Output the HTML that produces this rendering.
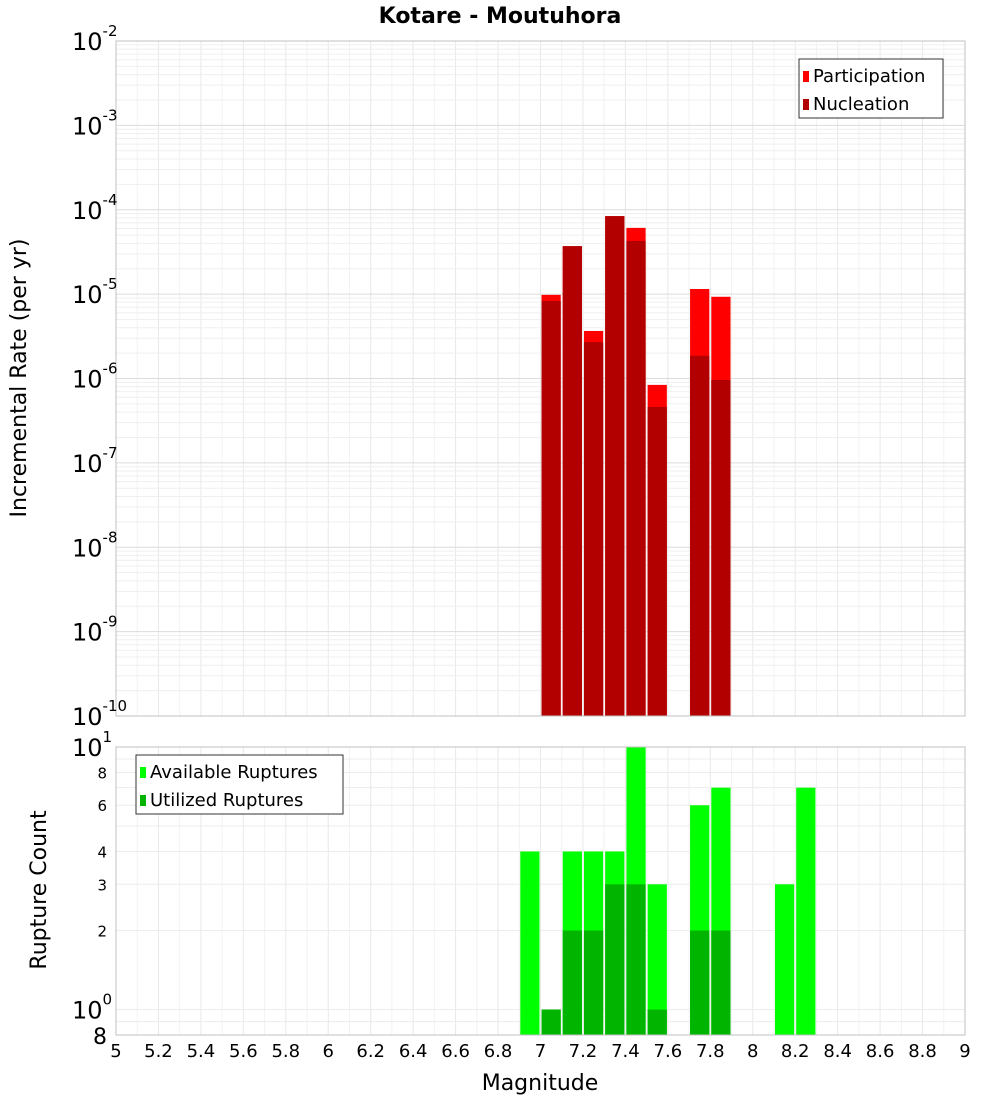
<!DOCTYPE html>
<html><head><meta charset="utf-8"><style>
body{margin:0;background:#fff;font-family:"Liberation Sans","DejaVu Sans",sans-serif}
svg text{font-family:"DejaVu Sans","Liberation Sans",sans-serif}
</style></head><body>
<svg id="c" width="1000" height="1100" xmlns="http://www.w3.org/2000/svg"></svg>
<script>
const magBins=[6.95,7.05,7.15,7.25,7.35,7.45,7.55,7.75,7.85,8.15,8.25];
const participation=[null,9.8e-6,3.7e-5,3.66e-6,8.4e-5,6.1e-5,8.4e-7,1.15e-5,9.3e-6,null,null];
const nucleation=[null,8.3e-6,3.7e-5,2.7e-6,8.4e-5,4.27e-5,4.6e-7,1.86e-6,9.6e-7,null,null];
const available=[4,1,4,4,4,10,3,6,7,3,7];
const utilized=[null,1,2,2,3,3,1,2,2,null,null];
const xTicks=[5,5.2,5.4,5.6,5.8,6,6.2,6.4,6.6,6.8,7,7.2,7.4,7.6,7.8,8,8.2,8.4,8.6,8.8,9];
const topDecades=[-2,-3,-4,-5,-6,-7,-8,-9,-10];

const S=document.getElementById('c');const NS='http://www.w3.org/2000/svg';
function mk(t,a,p){const e=document.createElementNS(NS,t);for(const k in a)e.setAttribute(k,a[k]);(p||S).appendChild(e);return e;}
const X0=116,X1=965;
const x=m=>X0+(m-5)/4*(X1-X0);
const T0=41,T1=716;
const yT=v=>T0+(-2-Math.log10(v))/8*(T1-T0);
const B0=747,B1=1035,BL=Math.log10(0.8);
const yB=v=>B0+(1-Math.log10(v))/(1-BL)*(B1-B0);

// title
let t=mk('text',{x:500,y:23,'text-anchor':'middle','font-size':22,'font-weight':'bold'});t.textContent='Kotare - Moutuhora';



// panels
let gT=mk('g',{});


mk('rect',{x:X0,y:T0,width:X1-X0,height:T1-T0,fill:'#fff',stroke:'none'},gT);
let gB=mk('g',{});


mk('rect',{x:X0,y:B0,width:X1-X0,height:B1-B0,fill:'#fff'},gB);

// grids
for(const m of xTicks){const gx=x(m);
 mk('line',{x1:gx,x2:gx,y1:T0,y2:T1,stroke:'#e8e8e8'},gT);
 mk('line',{x1:gx,x2:gx,y1:B0,y2:B1,stroke:'#e8e8e8'},gB);
 const gx2=x(m+0.1); if(m<9){mk('line',{x1:gx2,x2:gx2,y1:T0,y2:T1,stroke:'#f2f2f2'},gT);mk('line',{x1:gx2,x2:gx2,y1:B0,y2:B1,stroke:'#f2f2f2'},gB);}
}
for(let d=-10;d<-2;d++)for(let k=1;k<10;k++){const gy=yT(k*Math.pow(10,d));mk('line',{x1:X0,x2:X1,y1:gy,y2:gy,stroke:k==1?'#dcdcdc':'#efefef'},gT);}
for(const v of [0.8,0.9,1,2,3,4,5,6,7,8,9,10]){const gy=yB(v);mk('line',{x1:X0,x2:X1,y1:gy,y2:gy,stroke:'#ececec'},gB);}

// top bars
magBins.forEach((m,i)=>{const bx=x(m-0.05)+1,w=x(m+0.05)-x(m-0.05)-2;
 if(participation[i]){const r=mk('rect',{x:bx,y:yT(participation[i]),width:w,height:T1-yT(participation[i]),fill:'#ff0000'},gT);
  
  }
 if(nucleation[i]){const r=mk('rect',{x:bx,y:yT(nucleation[i]),width:w,height:T1-yT(nucleation[i]),fill:'#b20000'},gT);
  
  }
 if(available[i]){const r=mk('rect',{x:bx,y:yB(available[i]),width:w,height:B1-yB(available[i]),fill:'#00ff00'},gB);
  
  }
 if(utilized[i]){const r=mk('rect',{x:bx,y:yB(utilized[i]),width:w,height:B1-yB(utilized[i]),fill:'#00b400'},gB);
  
  }
});
mk('rect',{x:X0,y:T0,width:X1-X0,height:T1-T0,fill:'none',stroke:'#c0c0c0'},gT);
mk('rect',{x:X0,y:B0,width:X1-X0,height:B1-B0,fill:'none',stroke:'#c0c0c0'},gB);

// top y ticks
for(const d of topDecades){const gy=yT(Math.pow(10,d));
 const e=mk('text',{x:72,y:gy+9,'font-size':24});e.textContent='10';
 const s=mk('tspan',{dy:-14,'font-size':15},e);s.textContent=String(d);
 
 }
// bottom y ticks
const bt=[[8,'8'],[6,'6'],[4,'4'],[3,'3'],[2,'2']];
for(const [v,l] of bt){const e=mk('text',{x:107,y:yB(v)+6,'font-size':15,'text-anchor':'end'});e.textContent=l;
 
 }
for(const [v,p] of [[10,'1'],[1,'0']]){const e=mk('text',{x:72,y:yB(v)+9,'font-size':24});e.textContent='10';const s=mk('tspan',{dy:-14,'font-size':15},e);s.textContent=p;
 
 }
t=mk('text',{x:107,y:B1+9,'font-size':22,'text-anchor':'end'});t.textContent='8';

// x ticks
for(const m of xTicks){const e=mk('text',{x:x(m),y:1057,'font-size':18,'text-anchor':'middle'});e.textContent=String(m);
 
 }
t=mk('text',{x:540,y:1090,'font-size':22,'text-anchor':'middle'});t.textContent='Magnitude';


t=mk('text',{x:0,y:0,'font-size':22,'text-anchor':'middle',transform:'translate(26,378) rotate(-90)'});t.textContent='Incremental Rate (per yr)';


t=mk('text',{x:0,y:0,'font-size':22,'text-anchor':'middle',transform:'translate(46,890) rotate(-90)'});t.textContent='Rupture Count';



// legends
function legend(x0,y0,w,items,name){const g=mk('g',{});
 
 
 mk('rect',{x:x0,y:y0,width:w,height:59,fill:'#fff',stroke:'#333'},g);
 items.forEach(([c,l],i)=>{mk('rect',{x:x0+4,y:y0+12+i*28,width:6,height:11,fill:c},g);
  const e=mk('text',{x:x0+14,y:y0+23+i*28,'font-size':18},g);e.textContent=l;});}
legend(799,59,144,[['#ff0000','Participation'],['#b20000','Nucleation']],'rate-legend');
legend(136,755,207,[['#00ff00','Available Ruptures'],['#00b400','Utilized Ruptures']],'count-legend');
</script>
</body></html>
